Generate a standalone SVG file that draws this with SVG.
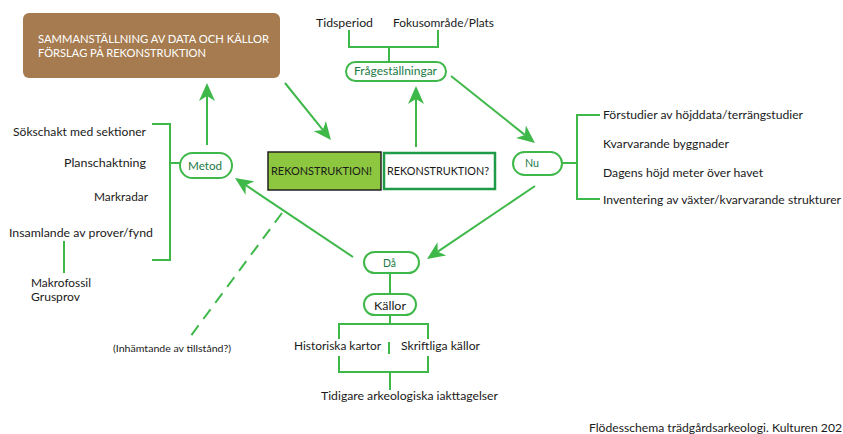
<svg xmlns="http://www.w3.org/2000/svg" width="843" height="434" viewBox="0 0 843 434">
<style>
text{font-family:"Lato","Liberation Sans",sans-serif;font-size:12px;fill:#1a1a1a}
.w{fill:#ffffff}
.dg{fill:#1b7a45}
.sm{font-size:10px}
.ln{fill:none;stroke:#3fb84a;stroke-width:2}
.pill{fill:#ffffff;stroke:#3fb84a;stroke-width:2}
.arr{fill:none;stroke:#3fb84a;stroke-width:2;marker-end:url(#ah)}
</style>
<defs>
<marker id="ah" viewBox="0 0 18 16" refX="5" refY="8" markerWidth="18" markerHeight="16" markerUnits="userSpaceOnUse" orient="auto">
<path d="M0,0 L18,8 L0,16 L5,8 z" fill="#3fb84a"/>
</marker>
</defs>
<rect width="843" height="434" fill="#ffffff"/>

<g id="connectors">
<line class="arr" x1="207" y1="145" x2="207" y2="96"/>
<line class="arr" x1="285" y1="83" x2="322.8" y2="129.9"/>
<line class="arr" x1="416" y1="147" x2="416" y2="99"/>
<line class="arr" x1="451" y1="76" x2="524.8" y2="134.9"/>
<line class="arr" x1="535" y1="186" x2="437.8" y2="251.7"/>
<line class="arr" x1="353" y1="257" x2="245.8" y2="185.2"/>
<line class="ln" x1="282" y1="213" x2="190" y2="337" stroke-dasharray="12 8" stroke-width="2.5"/>
<!-- Frågeställningar bracket -->
<path class="ln" d="M349,30 V47 H438 V30 M389,47 V62"/>
<!-- Nu bracket -->
<path class="ln" d="M562,163 H577 M600,115 H577 V199 H600"/>
<!-- Metod bracket -->
<path class="ln" d="M180,163 H170 M152,124 H170 V260 H152"/>
<line class="ln" x1="64" y1="241" x2="64" y2="273"/>
<!-- Då/Källor -->
<line class="ln" x1="390" y1="273" x2="390" y2="294"/>
<path class="ln" d="M390,315 V324 M339,339 V324 H428 V339 M339,356 V372 H428 V356 M390,372 V390 M389,342 V354"/>
</g>

<g id="node-sammanstallning">
<rect x="23" y="13" width="257" height="65" rx="6" fill="#a67b4f"/>
<text class="w" x="38" y="43" textLength="231" lengthAdjust="spacingAndGlyphs">SAMMANSTÄLLNING AV DATA OCH KÄLLOR</text>
<text class="w" x="38" y="57" textLength="168" lengthAdjust="spacingAndGlyphs">FÖRSLAG PÅ REKONSTRUKTION</text>
</g>

<g id="node-tidsperiod"><text x="316" y="27" textLength="57" lengthAdjust="spacingAndGlyphs">Tidsperiod</text></g>
<g id="node-fokus"><text x="393" y="27" textLength="101" lengthAdjust="spacingAndGlyphs">Fokusområde/Plats</text></g>

<g id="node-fragestallningar">
<rect class="pill" x="346" y="62" width="100" height="19" rx="9.5"/>
<text class="dg" x="354" y="75" textLength="83" lengthAdjust="spacingAndGlyphs">Frågeställningar</text>
</g>

<g id="node-rek1">
<rect x="268" y="152" width="113" height="38" fill="#8dc63f" stroke="#231f20" stroke-width="1.5"/>
<text x="271" y="175" textLength="101" lengthAdjust="spacingAndGlyphs">REKONSTRUKTION!</text>
</g>

<g id="node-rek2">
<rect x="384" y="153" width="111" height="36" fill="#ffffff" stroke="#1f9a47" stroke-width="2.5"/>
<text x="387" y="175" textLength="102" lengthAdjust="spacingAndGlyphs">REKONSTRUKTION?</text>
</g>

<g id="node-nu">
<rect class="pill" x="513" y="152" width="49" height="23" rx="11.5"/>
<text class="dg" x="525" y="167" textLength="14" lengthAdjust="spacingAndGlyphs">Nu</text>
</g>
<g id="node-nu-items">
<text x="603" y="119" textLength="200" lengthAdjust="spacingAndGlyphs">Förstudier av höjddata/terrängstudier</text>
<text x="603" y="148" textLength="126" lengthAdjust="spacingAndGlyphs">Kvarvarande byggnader</text>
<text x="603" y="177" textLength="160" lengthAdjust="spacingAndGlyphs">Dagens höjd meter över havet</text>
<text x="603" y="204" textLength="238" lengthAdjust="spacingAndGlyphs">Inventering av växter/kvarvarande strukturer</text>
</g>

<g id="node-metod">
<rect class="pill" x="180" y="153" width="52" height="25" rx="12.5"/>
<text class="dg" x="188" y="170" textLength="34" lengthAdjust="spacingAndGlyphs">Metod</text>
</g>
<g id="node-metod-items">
<text x="13" y="136" textLength="133" lengthAdjust="spacingAndGlyphs">Sökschakt med sektioner</text>
<text x="64" y="167" textLength="82" lengthAdjust="spacingAndGlyphs">Planschaktning</text>
<text x="94" y="201" textLength="54" lengthAdjust="spacingAndGlyphs">Markradar</text>
<text x="9" y="237" textLength="144" lengthAdjust="spacingAndGlyphs">Insamlande av prover/fynd</text>
<text x="31" y="287" textLength="60" lengthAdjust="spacingAndGlyphs">Makrofossil</text>
<text x="31" y="301" textLength="49" lengthAdjust="spacingAndGlyphs">Grusprov</text>
</g>

<g id="node-tillstand">
<text class="sm" x="113" y="352" textLength="118" lengthAdjust="spacingAndGlyphs">(Inhämtande av tillstånd?)</text>
</g>

<g id="node-da">
<rect class="pill" x="364" y="252" width="55" height="21" rx="10.5"/>
<text class="dg" x="383" y="267" textLength="13" lengthAdjust="spacingAndGlyphs">Då</text>
</g>

<g id="node-kallor">
<rect class="pill" x="364" y="294" width="52" height="21" rx="10.5"/>
<text x="374" y="310" textLength="32" lengthAdjust="spacingAndGlyphs">Källor</text>
</g>
<g id="node-kallor-items">
<text x="294" y="350" textLength="87" lengthAdjust="spacingAndGlyphs">Historiska kartor</text>
<text x="401" y="350" textLength="79" lengthAdjust="spacingAndGlyphs">Skriftliga källor</text>
<text x="321" y="400" textLength="177" lengthAdjust="spacingAndGlyphs">Tidigare arkeologiska iakttagelser</text>
</g>

<g id="caption">
<text x="589" y="432" textLength="253" lengthAdjust="spacingAndGlyphs">Flödesschema trädgårdsarkeologi. Kulturen 202</text>
</g>
</svg>
